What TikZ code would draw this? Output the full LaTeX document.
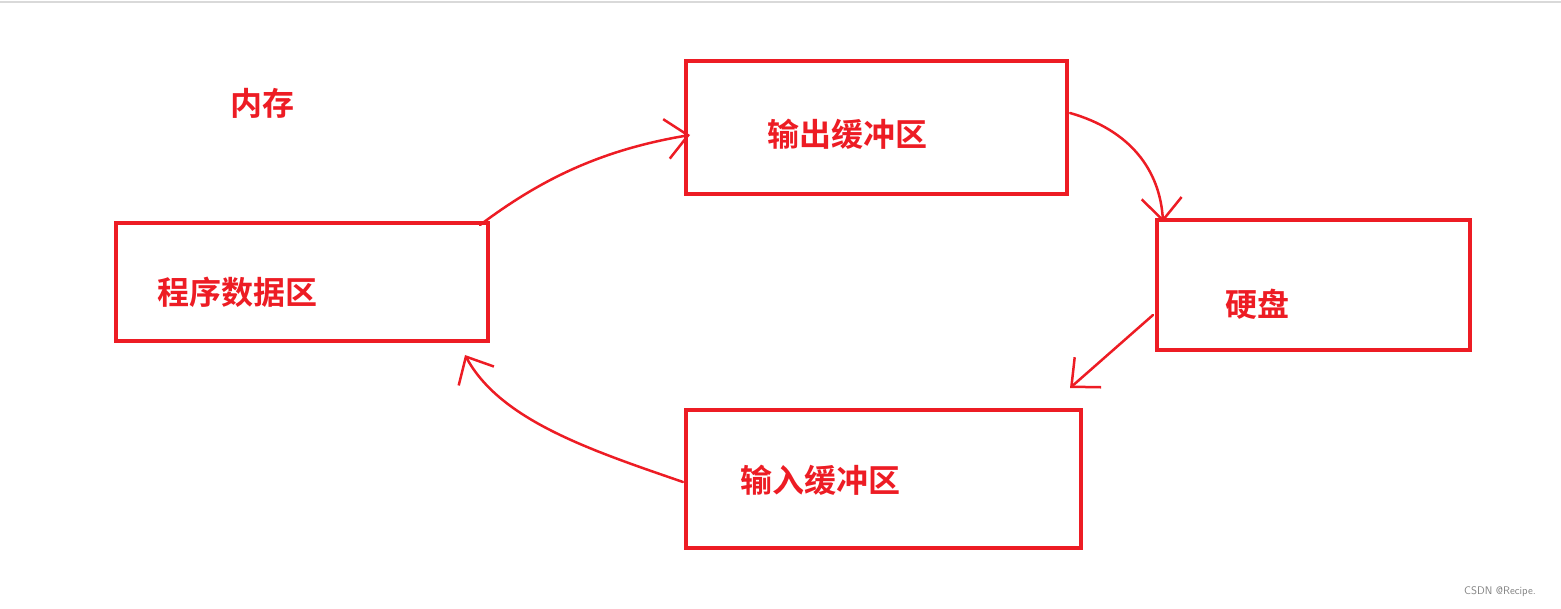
\documentclass[tikz,border=0pt]{standalone}
\usepackage{fontspec}
\newfontfamily\cjk{Noto Sans CJK SC Bold}
\usetikzlibrary{arrows.meta}
\definecolor{rd}{RGB}{237,28,36}
\tikzset{box/.style={draw=rd,line width=3.5pt},
lbl/.style={text=rd,font=\cjk\fontsize{32}{36}\selectfont},
hand/.style={draw=rd,line width=2.5pt,line cap=round,-{Straight Barb[length=22pt,width=40pt,line width=2.5pt]}}}
\begin{document}
\begin{tikzpicture}[x=1pt,y=-1pt]
\useasboundingbox (0,0) rectangle (1561,609);
\draw[gray!30,line width=1.5pt] (0,2) -- (1561,2);
\draw[box] (116,223) rectangle (488,341);
\draw[box] (686,61) rectangle (1067,194);
\draw[box] (1157,220) rectangle (1470,350);
\draw[box] (686,410) rectangle (1081,548);
\coordinate (p1) at (480,225);
\coordinate (o1) at (690,135);
\coordinate (o2) at (1070,113);
\coordinate (h1) at (1163,222);
\coordinate (h2) at (1153,315);
\coordinate (i1) at (1070,388);
\coordinate (i2) at (683,482);
\coordinate (p2) at (465,355);
\node[lbl] (mem) at (262,103) {内存};
\node[lbl] (prog) at (237,292) {程序数据区};
\node[lbl] (out) at (847,134) {输出缓冲区};
\node[lbl] (hd) at (1257,304) {硬盘};
\node[lbl] (in) at (820,480) {输入缓冲区};
\draw[hand] (p1) .. controls (540,180) and (600,150) .. (o1);
\draw[hand] (o2) .. controls (1130,130) and (1160,170) .. (h1);
\draw[hand] (h2) -- (i1);
\draw[hand] (i2) .. controls (590,450) and (500,420) .. (p2);
\node[text=gray,font=\sffamily\fontsize{11}{12}\selectfont] (wm) at (1500,592) {CSDN @Recipe.};
\end{tikzpicture}
\end{document}
